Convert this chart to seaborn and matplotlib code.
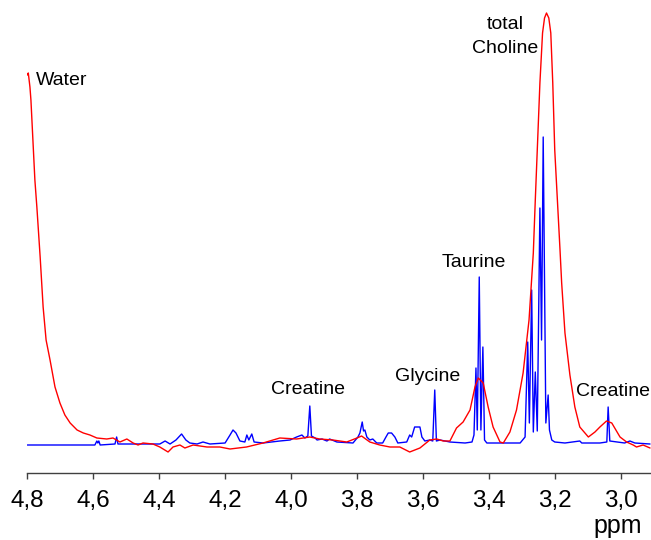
import matplotlib
matplotlib.use("Agg")
import matplotlib.pyplot as plt
import seaborn as sns
import pandas as pd

# ---- data (ppm, intensity in arbitrary units) ----
red_ppm = [4.800, 4.797, 4.792, 4.789, 4.783, 4.777, 4.771, 4.761, 4.752, 4.743,
           4.731, 4.716, 4.701, 4.686, 4.670, 4.649, 4.630, 4.610, 4.589, 4.559,
           4.540, 4.519, 4.498, 4.479, 4.464, 4.449, 4.419, 4.398, 4.373, 4.358,
           4.337, 4.322, 4.297, 4.255, 4.216, 4.185, 4.135, 4.085, 4.034, 3.983,
           3.943, 3.913, 3.873, 3.831, 3.800, 3.786, 3.761, 3.731, 3.700, 3.670,
           3.640, 3.609, 3.579, 3.558, 3.538, 3.518, 3.498, 3.478, 3.457, 3.442,
           3.432, 3.417, 3.402, 3.387, 3.366, 3.356, 3.336, 3.316, 3.296, 3.278,
           3.265, 3.259, 3.253, 3.245, 3.237, 3.231, 3.225, 3.218, 3.212, 3.206,
           3.200, 3.192, 3.184, 3.179, 3.169, 3.154, 3.139, 3.124, 3.098, 3.078,
           3.063, 3.043, 3.027, 3.002, 2.982, 2.962, 2.952, 2.932, 2.911]
red_int = [370, 372, 358, 345, 305, 265, 238, 188, 138, 105,
           85, 58, 42, 30, 22, 15, 12, 10, 7, 6,
           7, 3, 6, 2, 0, 2, 1, -2, -7, -2,
           0, -3, 0, -2, -2, -4, -2, 2, 7, 6,
           8, 6, 5, 3, 7, 9, 3, 0, -2, -2,
           -7, -3, 5, 6, 4, 4, 17, 23, 35, 58,
           67, 62, 38, 18, 3, 2, 13, 35, 72, 125,
           192, 245, 295, 362, 412, 427, 432, 427, 412, 362,
           295, 245, 195, 162, 112, 70, 38, 18, 8, 13,
           18, 24, 22, 8, 3, 0, -2, 0, -3]

blue_ppm = [4.800, 4.700, 4.595, 4.589, 4.586, 4.583, 4.579, 4.534, 4.529, 4.525,
            4.398, 4.382, 4.367, 4.349, 4.332, 4.319, 4.307, 4.285, 4.267, 4.246,
            4.200, 4.185, 4.176, 4.167, 4.155, 4.140, 4.134, 4.128, 4.119, 4.112,
            4.085, 4.034, 4.003, 3.983, 3.967, 3.958, 3.949, 3.943, 3.938, 3.927,
            3.921, 3.906, 3.891, 3.883, 3.861, 3.812, 3.797, 3.791, 3.784, 3.780,
            3.776, 3.770, 3.761, 3.752, 3.740, 3.722, 3.712, 3.705, 3.695, 3.685,
            3.676, 3.649, 3.640, 3.634, 3.625, 3.609, 3.603, 3.594, 3.579, 3.570,
            3.564, 3.559, 3.548, 3.518, 3.472, 3.451, 3.445, 3.439, 3.435, 3.429,
            3.424, 3.418, 3.413, 3.406, 3.366, 3.305, 3.290, 3.282, 3.277, 3.270,
            3.265, 3.259, 3.253, 3.245, 3.240, 3.235, 3.227, 3.220, 3.216, 3.209,
            3.200, 3.169, 3.124, 3.118, 3.063, 3.042, 3.038, 3.033, 2.988, 2.972,
            2.957, 2.911]
blue_int = [0, 0, 0, 4, 2, 4, 0, 1, 8, 1,
            1, 4, 1, 5, 11, 5, 2, 1, 3, 1,
            2, 10, 15, 12, 4, 3, 10, 5, 11, 3,
            2, 4, 5, 8, 10, 7, 9, 39, 9, 7,
            5, 6, 4, 6, 3, 2, 8, 12, 23, 14,
            15, 8, 5, 6, 2, 2, 8, 12, 12, 8,
            2, 3, 10, 8, 18, 18, 8, 4, 5, 4,
            55, 4, 5, 3, 2, 3, 10, 77, 15, 168,
            15, 98, 5, 2, 2, 2, 8, 103, 22, 155,
            13, 73, 14, 237, 105, 308, 22, 50, 15, 5,
            3, 2, 4, 2, 2, 3, 38, 4, 2, 4,
            2, 1]

tick_values = [4.8, 4.6, 4.4, 4.2, 4.0, 3.8, 3.6, 3.4, 3.2, 3.0]
tick_labels = ["4,8", "4,6", "4,4", "4,2", "4,0", "3,8", "3,6", "3,4", "3,2", "3,0"]

red_df = pd.DataFrame({"ppm": red_ppm, "intensity": red_int})
blue_df = pd.DataFrame({"ppm": blue_ppm, "intensity": blue_int})

sns.set_style("white")
plt.rcParams["font.family"] = ["Liberation Sans", "DejaVu Sans"]
plt.rcParams["text.color"] = "black"

fig = plt.figure(figsize=(6.51, 5.4), dpi=100)
ax = fig.add_axes([27.3 / 651, 1 - 473 / 540, 1 - 27.3 / 651, 473 / 540])

sns.lineplot(data=blue_df, x="ppm", y="intensity", sort=False, estimator=None,
             color="#0000ff", lw=1.0, ax=ax)
sns.lineplot(data=red_df, x="ppm", y="intensity", sort=False, estimator=None,
             color="#ff0000", lw=1.0, ax=ax)

ax.set_xlim(4.8, 2.908)
ax.set_ylim(-28, 445)
ax.set_xticks(tick_values)
ax.set_xticklabels(tick_labels)
ax.set_yticks([])
ax.set_xlabel("")
ax.set_ylabel("")
for s in ["left", "top", "right"]:
    ax.spines[s].set_visible(False)
ax.spines["bottom"].set_color("#404040")
ax.spines["bottom"].set_linewidth(1.0)
ax.tick_params(axis="x", direction="out", length=4, width=1.0, color="#404040",
               labelsize=17.5, pad=8, bottom=True, labelcolor="black")

lab = dict(fontsize=14, color="black")
ax.text(4.774, 360, "Water", ha="left", va="baseline", **lab)
ax.text(3.948, 51, "Creatine", ha="center", va="baseline", **lab)
ax.text(3.586, 64, "Glycine", ha="center", va="baseline", **lab)
ax.text(3.445, 178, "Taurine", ha="center", va="baseline", **lab)
ax.text(3.024, 49, "Creatine", ha="center", va="baseline", **lab)
ax.text(3.351, 416, "total", ha="center", va="baseline", **lab)
ax.text(3.351, 392, "Choline", ha="center", va="baseline", **lab)

fig.text(618 / 651, 1 - 533.5 / 540, "ppm", ha="center", va="baseline",
         fontsize=18, color="black")

fig.savefig("out.png", dpi=100)
